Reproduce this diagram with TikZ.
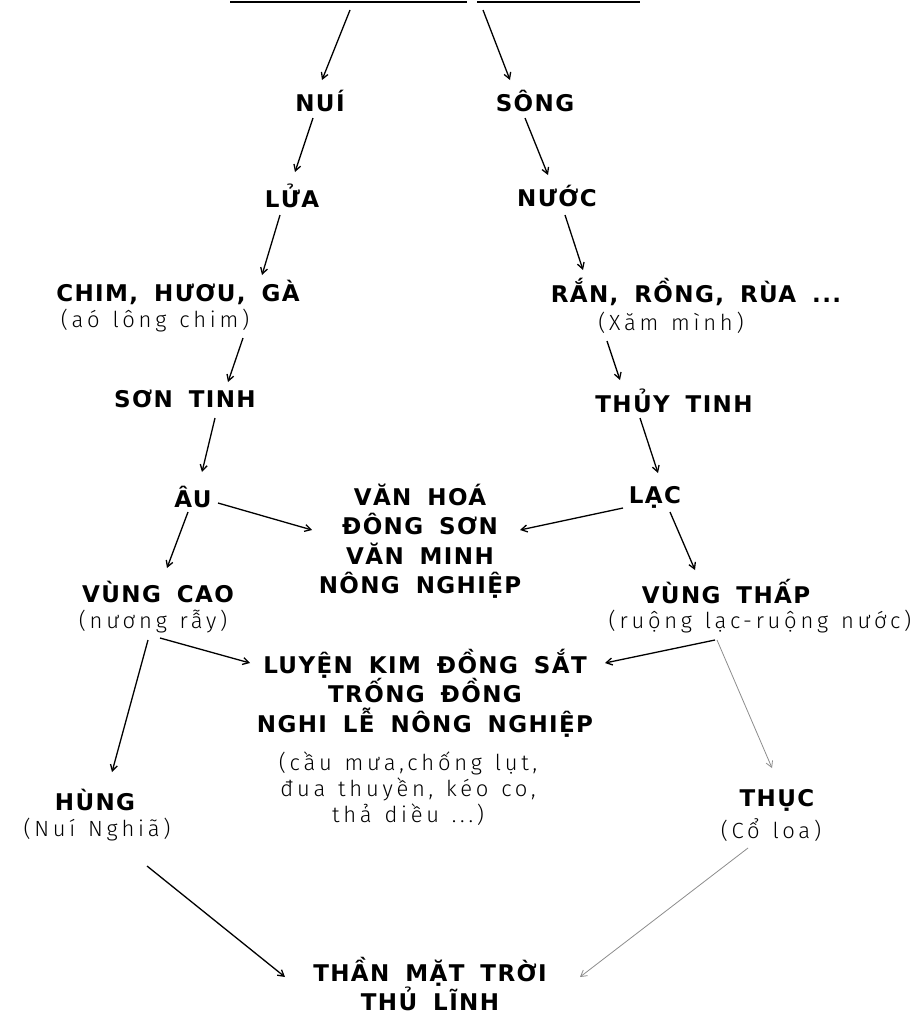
\documentclass[tikz,border=0pt]{standalone}
\usepackage{fontspec}
\usetikzlibrary{arrows.meta}
\newfontfamily\capsfont{DejaVu Sans}[LetterSpace=6,WordSpace=1.7]
\newfontfamily\handfont{Fira Sans Light}[LetterSpace=17,WordSpace=1.3]
\tikzset{
  capsnode/.style={font=\capsfont\bfseries\fontsize{23}{29.5}\selectfont, align=center, inner sep=0pt},
  handnode/.style={font=\handfont\fontsize{22}{26}\selectfont, align=center, inner sep=0pt},
  arr/.style={-{Straight Barb[length=6,width=7]}, line width=1.3},
  faint/.style={arr, draw=black!45, line width=0.8},
}
\newcommand\nodept[2]{([shift={(#2)}]#1.center)}
\begin{document}
\begin{tikzpicture}[x=1pt,y=-1pt]
\path[use as bounding box] (0,0) rectangle (921,1017);
% rule along the top edge
\coordinate (barA) at (230,2);
\coordinate (barB) at (467,2);
\coordinate (barC) at (477,2);
\coordinate (barD) at (640,2);
\draw[line width=1.6] (barA) -- (barB) (barC) -- (barD);
\coordinate (topL) at (350,10);
\coordinate (topR) at (483,10);

% nodes
\node[capsnode] (nui) at (320,101) {NUÍ};
\node[capsnode] (song) at (535,101) {SÔNG};
\node[capsnode] (lua) at (292,196) {LỬA};
\node[capsnode] (nuoc) at (557,196) {NƯỚC};
\node[capsnode] (chim) at (178,292) {CHIM, HƯƠU, GÀ};
\node[handnode] (aolong) at (155,321) {(aó lông chim)};
\node[capsnode] (ran) at (696,292) {RẮN, RỒNG, RÙA ...};
\node[handnode] (xam) at (671,323) {(Xăm mình)};
\node[capsnode] (sontinh) at (185,399) {SƠN TINH};
\node[capsnode] (thuytinh) at (674,401) {THỦY TINH};
\node[capsnode] (au) at (193,497) {ÂU};
\node[capsnode] (lac) at (655,497) {LẠC};
\node[capsnode] (vanhoa) at (420,541) {VĂN HOÁ\\ĐÔNG SƠN\\VĂN MINH\\NÔNG NGHIỆP};
\node[capsnode] (vungcao) at (158,592) {VÙNG CAO};
\node[handnode] (nuongray) at (153,622) {(nương rẫy)};
\node[capsnode] (vungthap) at (726,592) {VÙNG THẤP};
\node[handnode] (ruong) at (760,622) {(ruộng lạc-ruộng nước)};
\node[capsnode] (luyen) at (425,693) {LUYỆN KIM ĐỒNG SẮT\\TRỐNG ĐỒNG\\NGHI LỄ NÔNG NGHIỆP};
\node[handnode] (leoc) at (408,789) {(cầu mưa,chống lụt,\\đua thuyền, kéo co,\\thả diều ...)};
\node[capsnode] (hung) at (95,800) {HÙNG};
\node[handnode] (nuinghia) at (97,830) {(Nuí Nghiã)};
\node[capsnode] (thuc) at (777,800) {THỤC};
\node[handnode] (coloa) at (771,830) {(Cổ loa)};
\node[capsnode] (than) at (430,984) {THẦN MẶT TRỜI\\THỦ LĨNH};

% connectors
\draw[arr] (topL) -- \nodept{nui}{2,-21};
\draw[arr] (topR) -- \nodept{song}{-25,-21};
\draw[arr] \nodept{nui}{-7,17} -- \nodept{lua}{3,-24};
\draw[arr] \nodept{song}{-10,17} -- \nodept{nuoc}{-9,-21};
\draw[arr] \nodept{lua}{-12,19} -- \nodept{chim}{84,-17};
\draw[arr] \nodept{nuoc}{8,19} -- \nodept{ran}{-113,-22};
\draw[arr] \nodept{aolong}{88,17} -- \nodept{sontinh}{43,-17};
\draw[arr] \nodept{xam}{-64,18} -- \nodept{thuytinh}{-54,-21};
\draw[arr] \nodept{sontinh}{30,19} -- \nodept{au}{9,-25};
\draw[arr] \nodept{thuytinh}{-34,17} -- \nodept{lac}{3,-24};
\draw[arr] \nodept{au}{25,6} -- \nodept{vanhoa}{-108,-11};
\draw[arr] \nodept{lac}{-32,11} -- \nodept{vanhoa}{100,-11};
\draw[arr] \nodept{au}{-5,15} -- \nodept{vungcao}{9,-24};
\draw[arr] \nodept{lac}{15,15} -- \nodept{vungthap}{-31,-22};
\draw[arr] \nodept{nuongray}{7,16} -- \nodept{luyen}{-175,-30};
\draw[arr] \nodept{ruong}{-45,18} -- \nodept{luyen}{180,-30};
\draw[arr] \nodept{nuongray}{-5,18} -- \nodept{hung}{17,-28};
\draw[faint] \nodept{ruong}{-43,18} -- \nodept{thuc}{-5,-32};
\draw[arr] \nodept{nuinghia}{50,36} -- \nodept{than}{-145,-7};
\draw[faint] \nodept{coloa}{-23,18} -- \nodept{than}{150,-7};
\end{tikzpicture}
\end{document}
